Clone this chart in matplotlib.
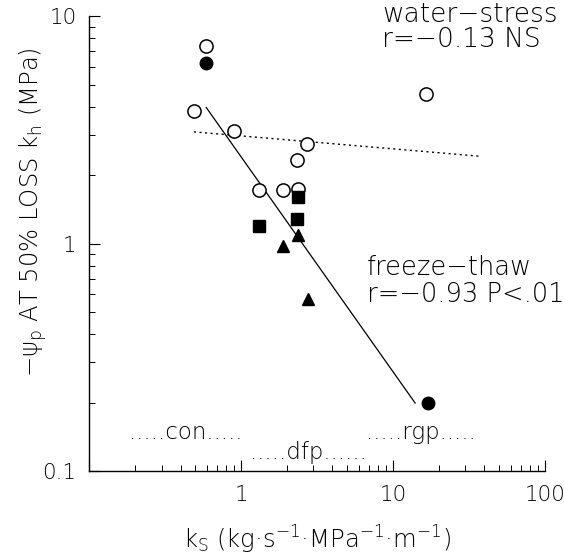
import matplotlib
matplotlib.use("Agg")
import matplotlib.pyplot as plt
from matplotlib.ticker import LogLocator, NullFormatter, FixedLocator, FixedFormatter

plt.rcParams['font.family'] = ['DejaVu Sans']
plt.rcParams['font.weight'] = 'light'
plt.rcParams['mathtext.fontset'] = 'custom'
plt.rcParams['mathtext.rm'] = 'DejaVu Sans:weight=light'
plt.rcParams['mathtext.it'] = 'DejaVu Sans:weight=light'
plt.rcParams['mathtext.sf'] = 'DejaVu Sans:weight=light'
plt.rcParams['mathtext.default'] = 'rm'

# water-stress (open circles)
ws_x = [0.59, 0.49, 0.90, 2.73, 2.35, 1.32, 1.90, 2.36, 16.6]
ws_y = [7.4, 3.84, 3.13, 2.73, 2.33, 1.72, 1.72, 1.73, 4.54]
# freeze-thaw: filled circles, squares, triangles
fc_x = [0.59, 16.9]
fc_y = [6.23, 0.20]
sq_x = [2.36, 2.32, 1.32]
sq_y = [1.61, 1.28, 1.20]
tr_x = [1.90, 2.36, 2.77]
tr_y = [0.98, 1.09, 0.57]
# regression lines
ft_line_x = [0.59, 14.0]
ft_line_y = [3.97, 0.199]
ws_line_x = [0.49, 38.0]
ws_line_y = [3.10, 2.42]

x_ticks = [0.1, 1, 10, 100]
x_ticklabels = ['', '1', '10', '100']
y_ticks = [0.1, 1, 10]
y_ticklabels = ['0.1', '1', '10']

fig = plt.figure(figsize=(5.64, 5.60), dpi=100)
ax = fig.add_axes([0.158, 0.159, 0.808, 0.812])
ax.set_xscale('log')
ax.set_yscale('log')
ax.set_xlim(0.1, 100)
ax.set_ylim(0.1, 10)

ax.plot(ft_line_x, ft_line_y, color='black', lw=0.9)
ax.plot(ws_line_x, ws_line_y, color='black', lw=1.0, ls=(0, (1.5, 2.5)))

ax.plot(ws_x, ws_y, 'o', mfc='white', mec='black', mew=1.1, ms=9.5, ls='none')
ax.plot(fc_x, fc_y, 'o', mfc='black', mec='black', ms=9, ls='none')
ax.plot(sq_x, sq_y, 's', mfc='black', mec='black', ms=8.5, ls='none')
ax.plot(tr_x, tr_y, '^', mfc='black', mec='black', ms=8.5, ls='none')

for s in ['top', 'right']:
    ax.spines[s].set_visible(False)
for s in ['left', 'bottom']:
    ax.spines[s].set_linewidth(1.0)

ax.tick_params(which='major', direction='in', length=8, width=0.8, labelsize=15.5)
ax.tick_params(axis='x', which='major', pad=10)
ax.tick_params(axis='y', which='major', pad=9)
ax.tick_params(which='minor', direction='in', length=4, width=0.7)
ax.xaxis.set_major_locator(FixedLocator(x_ticks))
ax.xaxis.set_major_formatter(FixedFormatter(x_ticklabels))
ax.yaxis.set_major_locator(FixedLocator(y_ticks))
ax.yaxis.set_major_formatter(FixedFormatter(y_ticklabels))
ax.xaxis.set_minor_locator(LogLocator(base=10, subs=range(2, 10)))
ax.yaxis.set_minor_locator(LogLocator(base=10, subs=range(2, 10)))
ax.xaxis.set_minor_formatter(NullFormatter())
ax.yaxis.set_minor_formatter(NullFormatter())

fig.text(0.5625, 0.035, 'k$_{\\mathrm{S}}$ (kg\u00b7s$^{\\mathrm{\u22121}}$\u00b7MPa$^{\\mathrm{\u22121}}$\u00b7m$^{\\mathrm{\u22121}}$)',
         fontsize=17.5, ha='center', va='center')
fig.text(0.059, 0.621, '\u2212\u03c8$_{\\mathrm{p}}$ AT 50% LOSS k$_{\\mathrm{h}}$ (MPa)',
         fontsize=17.5, ha='center', va='center', rotation=90)

ax.text(0.643, 0.976, 'water\u2212stress\nr=\u22120.13 NS', transform=ax.transAxes,
        ha='left', va='center', fontsize=19, linespacing=1.0)
ax.text(0.610, 0.418, 'freeze\u2212thaw\nr=\u22120.93 P<.01', transform=ax.transAxes,
        ha='left', va='center', fontsize=18.5, linespacing=1.1)

ax.text(0.43, 0.147, '.....con.....', ha='center', va='center', fontsize=16.5)
ax.text(2.76, 0.121, '.....dfp......', ha='center', va='center', fontsize=16.5)
ax.text(15.3, 0.147, '.....rgp.....', ha='center', va='center', fontsize=16.5)

fig.savefig('out.png', dpi=100)
